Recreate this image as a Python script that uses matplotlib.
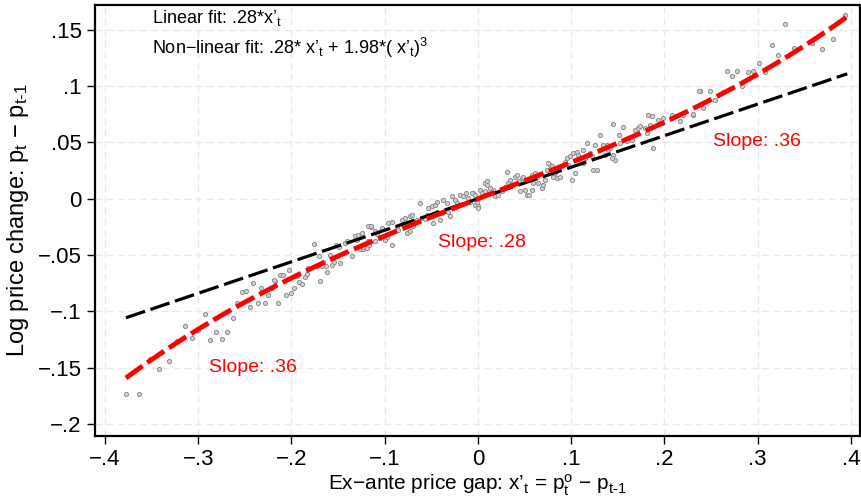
import numpy as np
import matplotlib.pyplot as plt

plt.rcParams['font.family'] = 'Liberation Sans'
plt.rcParams['mathtext.fontset'] = 'custom'
plt.rcParams['mathtext.rm'] = 'Liberation Sans'
plt.rcParams['mathtext.it'] = 'Liberation Sans'
plt.rcParams['axes.unicode_minus'] = True

# ex-ante price gap vs. log price change (one point per bin)
gap = [-0.3775, -0.364, -0.352, -0.342, -0.331, -0.323, -0.3145, -0.307, -0.300, -0.293,
       -0.287, -0.281, -0.2745, -0.269, -0.263, -0.2585, -0.253, -0.249, -0.2445,
       -0.241, -0.2327, -0.2212, -0.2177, -0.2249, -0.2362, -0.2284, -0.2148, -0.2059,
       -0.2005, -0.197, -0.1916, -0.1884, -0.1694,
       -0.2184, -0.2123, -0.2094, -0.2023, -0.1855, -0.1837, -0.1938, -0.182, -0.1755,
       -0.173, -0.1676, -0.171, -0.1659, -0.163, -0.1616, -0.1587, -0.1569, -0.1541,
       -0.1523, -0.1494, -0.148, -0.1423, -0.1408, -0.1355, -0.1319, -0.1284, -0.1301,
       -0.1265, -0.123, -0.1201, -0.1166, -0.115, -0.1176, -0.1105, -0.1086,
       -0.1247, -0.1176, -0.115, -0.123, -0.1194, -0.1166, -0.1105, -0.1051, -0.0997,
       -0.0979, -0.0925, -0.1033, -0.0962, -0.0925, -0.0872, -0.0855, -0.0818, -0.0783,
       -0.0729, -0.0711, -0.0765, -0.0729, -0.0694, -0.0622, -0.0657, -0.0604, -0.0568,
       -0.0533, -0.0497, -0.0461, -0.055, -0.0497, -0.0443, -0.0479, -0.0408, -0.0443,
       -0.0372, -0.0336, -0.0389, -0.0318, -0.030, -0.0282, -0.0247, -0.0228, -0.0193,
       -0.0158, -0.0129, -0.0104, -0.0086, -0.005, -0.0032, 0.0003, 0.0021, 0.0075, 0.0093,
       -0.0068, -0.0032, -0.0014, 0.004, 0.0075, 0.0093, 0.0003, 0.0129, 0.0164, 0.0182,
       0.0218, 0.0254, 0.0093, 0.029, 0.0308, 0.0325, 0.0343, 0.0379, 0.0397, 0.0415,
       0.0443, 0.0469, 0.0486, 0.045, 0.0504, 0.0522, 0.0551, 0.0576, 0.0593, 0.0576,
       0.0611, 0.0629, 0.0647, 0.0683, 0.070, 0.0718, 0.0737, 0.0772, 0.079, 0.0754,
       0.0808, 0.0826, 0.0844, 0.0879, 0.0898, 0.0933, 0.0951, 0.0968, 0.0987, 0.1022,
       0.1058, 0.1076, 0.1005, 0.104, 0.1094, 0.1129, 0.1147, 0.1166, 0.1183, 0.1219,
       0.1236, 0.1273, 0.1255, 0.1129, 0.1201,
       0.1308, 0.1344, 0.138, 0.1362, 0.1397, 0.1416, 0.1451, 0.1469, 0.1434, 0.1444,
       0.1516, 0.1559, 0.1523, 0.1594, 0.163, 0.1648, 0.1684, 0.1719, 0.1737, 0.1791,
       0.1809, 0.1845, 0.1826, 0.1863, 0.188, 0.1934, 0.197, 0.1987, 0.2077, 0.2166,
       0.2202, 0.2309, 0.2381, 0.2302,
       0.2373, 0.2488, 0.2542, 0.2624, 0.241, 0.2667, 0.2727, 0.2774, 0.2828, 0.2899,
       0.2953, 0.3013, 0.3078, 0.3149, 0.3221, 0.3292, 0.3389, 0.3578, 0.3686, 0.3804,
       0.3936]
dp = [-0.1736, -0.1736, -0.142, -0.151, -0.144, -0.1265, -0.113, -0.124, -0.1165, -0.1025,
      -0.1253, -0.118, -0.1247, -0.118, -0.1058, -0.0922, -0.0824, -0.0818, -0.0966,
      -0.075, -0.0792, -0.0794, -0.0727, -0.0854, -0.0928, -0.0928, -0.0928, -0.0854,
      -0.0833, -0.0792, -0.0744, -0.0756, -0.0727,
      -0.072, -0.0679, -0.0679, -0.0635, -0.0697, -0.0667, -0.0682, -0.0617, -0.0403,
      -0.0602, -0.0602, -0.0507, -0.0558, -0.0596, -0.0647, -0.0498, -0.0587, -0.0558,
      -0.041, -0.043, -0.0572, -0.0394, -0.038, -0.0513, -0.033, -0.032, -0.0365,
      -0.0448, -0.0445, -0.043, -0.024, -0.0252, -0.038, -0.0291, -0.0312,
      -0.0306, -0.024, -0.024, -0.0425, -0.0439, -0.041, -0.038, -0.035, -0.0365,
      -0.0336, -0.041, -0.0261, -0.0217, -0.0203, -0.0247, -0.0276, -0.0187, -0.0172,
      -0.0158, -0.0143, -0.0306, -0.0291, -0.0241, -0.0039, -0.0187, -0.0172, -0.0181,
      -0.0084, -0.0069, -0.0054, -0.0143, -0.0143, -0.0114, -0.0217, -0.0187, -0.0025,
      -0.001, -0.0039, -0.0128, -0.0114, -0.0158, 0.002, -0.001, -0.0039, 0.0035,
      0.002, 0.005, 0.0005, -0.0025, 0.005, -0.0054, -0.0069, 0.0079, 0.0139, 0.005,
      0.005, 0.0035, -0.0025, 0.005, 0.0064, 0.0123, -0.0084, 0.0094, 0.0079, 0.002,
      0.0035, 0.0064, 0.0153, 0.0108, 0.0233, 0.0139, 0.0168, 0.0123, 0.0197, 0.0212,
      0.0153, 0.0183, 0.0197, 0.0064, 0.0079, 0.0035, 0.0035, 0.0079, 0.0139, 0.0212,
      0.0227, 0.0197, 0.0139, 0.0094, 0.0123, 0.0168, 0.0257, 0.0301, 0.0286, 0.0316,
      0.0197, 0.0227, 0.0183, 0.0197, 0.0286, 0.033, 0.036, 0.0301, 0.0375, 0.0405,
      0.0419, 0.039, 0.0168, 0.0227, 0.0346, 0.0316, 0.036, 0.0494, 0.039, 0.0375,
      0.0257, 0.0257, 0.0479, 0.0434, 0.0405,
      0.0568, 0.0479, 0.0479, 0.039, 0.0434, 0.0449, 0.039, 0.0346, 0.036, 0.0665,
      0.0568, 0.0641, 0.0494, 0.0508, 0.0538, 0.0523, 0.0612, 0.0627, 0.0648, 0.0627,
      0.0583, 0.0656, 0.0745, 0.073, 0.0449, 0.0701, 0.0672, 0.0716, 0.0745, 0.0686,
      0.0745, 0.0745, 0.0952, 0.0752,
      0.0952, 0.0952, 0.0879, 0.0943, 0.0805, 0.113, 0.1092, 0.1136, 0.1003, 0.1125,
      0.1136, 0.1205, 0.1121, 0.1367, 0.1278, 0.1554, 0.1338, 0.1382, 0.1332, 0.142,
      0.1634]

# linear fit through the origin
lin_slope = 0.28
# points along the fitted non-linear curve
fit_x = [-0.3775, -0.241, -0.2016, -0.1126, 0.0097, 0.059, 0.160, 0.252, 0.396]
fit_y = [-0.159, -0.088, -0.0719, -0.0365, 0.0035, 0.0186, 0.052, 0.0896, 0.1616]

xticks = [-0.4, -0.3, -0.2, -0.1, 0, 0.1, 0.2, 0.3, 0.4]
xticklabels = ['\u2212.4', '\u2212.3', '\u2212.2', '\u2212.1', '0', '.1', '.2', '.3', '.4']
yticks = [-0.2, -0.15, -0.1, -0.05, 0, 0.05, 0.1, 0.15]
yticklabels = ['\u2212.2', '\u2212.15', '\u2212.1', '\u2212.05', '0', '.05', '.1', '.15']

fig = plt.figure(figsize=(8.62, 4.98), dpi=100)
ax = fig.add_axes([0.1102, 0.1245, 0.8875, 0.8655])

ax.grid(True, color='#e8e8e8', linestyle=(0, (5, 3)), linewidth=1.0)
ax.set_axisbelow(True)

ax.plot(gap, dp, 'o', markersize=3.0, markerfacecolor='#d2d2d2',
        markeredgecolor='#8e8e8e', markeredgewidth=0.7, zorder=2)

xs = np.linspace(min(gap), 0.396, 200)
ax.plot(xs, lin_slope * xs, color='black', linewidth=2.3,
        dashes=(6.3, 1.8), zorder=3)
coef = np.polyfit(fit_x, fit_y, 3)
ax.plot(xs, np.polyval(coef, xs), color='#ff0000', linewidth=3.5,
        dashes=(4.2, 1.2), zorder=4)

sub_t = '$_\\mathregular{t}$'
sub_t1 = '$_\\mathregular{t\u20101}$'
ax.text(-0.3496, 0.1607, 'Linear fit: .28*x\u2019' + sub_t, fontsize=13,
        va='center', ha='left')
ax.text(-0.3496, 0.1341,
        'Non\u2212linear fit: .28* x\u2019' + sub_t + ' + 1.98*( x\u2019' + sub_t
        + ')$^\\mathregular{3}$',
        fontsize=13, va='center', ha='left')
ax.text(0.0043, -0.0392, 'Slope: .28', color='#ff0000', fontsize=14, ha='center', va='center')
ax.text(0.299, 0.0505, 'Slope: .36', color='#ff0000', fontsize=14, ha='center', va='center')
ax.text(-0.241, -0.150, 'Slope: .36', color='#ff0000', fontsize=14, ha='center', va='center')

ax.set_xlim(-0.4107, 0.4097)
ax.set_ylim(-0.2107, 0.172)
ax.set_xticks(xticks)
ax.set_xticklabels(xticklabels)
ax.set_yticks(yticks)
ax.set_yticklabels(yticklabels)
ax.tick_params(axis='both', labelsize=16, length=6, width=1.0, direction='out')

for s in ax.spines.values():
    s.set_linewidth(1.6)
    s.set_color('black')

ax.set_xlabel('Ex\u2212ante price gap: x\u2019' + sub_t + ' = p$_\\mathregular{t}^\\mathregular{o}$ \u2212 p' + sub_t1,
              fontsize=15, labelpad=2)
ax.set_ylabel('Log price change: p' + sub_t + ' \u2212 p' + sub_t1,
              fontsize=17, labelpad=5)

fig.savefig('out.png', dpi=100)
